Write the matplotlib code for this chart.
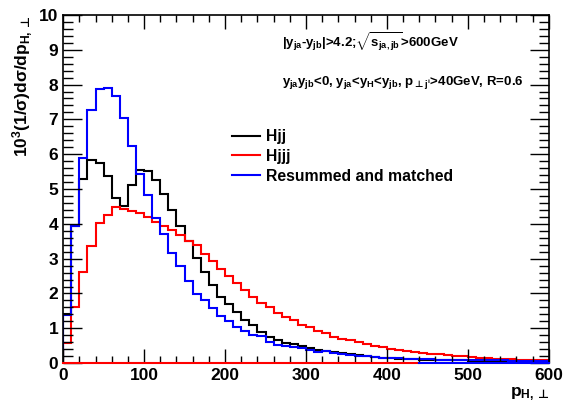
import numpy as np
import matplotlib.pyplot as plt
from matplotlib.ticker import MultipleLocator

plt.rcParams['font.family'] = ['Liberation Sans', 'DejaVu Sans']
plt.rcParams['font.weight'] = 'bold'
plt.rcParams['mathtext.fontset'] = 'custom'
plt.rcParams['mathtext.rm'] = 'Liberation Sans:bold'
plt.rcParams['mathtext.it'] = 'Liberation Sans:bold'
plt.rcParams['mathtext.bf'] = 'Liberation Sans:bold'
plt.rcParams['mathtext.sf'] = 'DejaVu Sans:bold'

# bin edges in GeV (10 GeV bins)
edges = np.arange(0, 610, 10)

hjj = [1.40, 3.95, 5.29, 5.83, 5.74, 5.37, 4.73, 4.51, 5.11, 5.56,
       5.53, 5.26, 4.87, 4.41, 3.95, 3.50, 3.01, 2.62, 2.24, 1.89,
       1.70, 1.46, 1.24, 1.08, 0.89, 0.74, 0.67, 0.58, 0.55, 0.49,
       0.43, 0.38, 0.34, 0.31, 0.29, 0.26, 0.23, 0.20, 0.18, 0.16,
       0.14, 0.13, 0.12, 0.11, 0.10, 0.10, 0.09, 0.09, 0.08, 0.08,
       0.07, 0.07, 0.07, 0.06, 0.06, 0.06, 0.05, 0.05, 0.05, 0.05]

hjjj = [0.57, 1.62, 2.62, 3.36, 4.03, 4.25, 4.49, 4.44, 4.38, 4.30,
        4.19, 4.06, 3.94, 3.82, 3.68, 3.50, 3.38, 3.12, 2.93, 2.71,
        2.49, 2.31, 2.10, 1.89, 1.72, 1.62, 1.45, 1.33, 1.24, 1.10,
        1.03, 0.93, 0.86, 0.76, 0.70, 0.65, 0.60, 0.55, 0.50, 0.46,
        0.41, 0.37, 0.34, 0.31, 0.29, 0.26, 0.25, 0.23, 0.21, 0.19,
        0.17, 0.16, 0.14, 0.13, 0.12, 0.11, 0.10, 0.09, 0.09, 0.08]

resummed = [1.38, 3.95, 5.88, 7.27, 7.86, 7.90, 7.67, 7.05, 6.24, 5.43,
            4.82, 4.17, 3.70, 3.17, 2.79, 2.36, 1.98, 1.82, 1.57, 1.36,
            1.22, 1.05, 0.91, 0.82, 0.77, 0.62, 0.53, 0.50, 0.46, 0.43,
            0.39, 0.31, 0.34, 0.29, 0.27, 0.24, 0.21, 0.19, 0.17, 0.16,
            0.15, 0.14, 0.13, 0.13, 0.11, 0.11, 0.10, 0.10, 0.10, 0.10,
            0.08, 0.08, 0.08, 0.08, 0.08, 0.07, 0.07, 0.07, 0.07, 0.07]

fig = plt.figure(figsize=(5.64, 4.03), dpi=100)
ax = fig.add_axes([0.112, 0.099, 0.861, 0.864])

ax.stairs(hjj, edges, color='black', lw=1.5, label='Hjj')
ax.stairs(hjjj, edges, color='red', lw=1.5, label='Hjjj')
ax.stairs(resummed, edges, color='blue', lw=1.5, label='Resummed and matched')

# zero lines along the bottom
ax.plot([0, 440], [0, 0], color='red', lw=1.5, clip_on=False, zorder=5)
ax.plot([440, 600], [0, 0], color='blue', lw=1.5, clip_on=False, zorder=5)

ax.set_xlim(0, 600)
ax.set_ylim(0, 10)
ax.xaxis.set_major_locator(MultipleLocator(100))
ax.xaxis.set_minor_locator(MultipleLocator(20))
ax.yaxis.set_major_locator(MultipleLocator(1))
ax.yaxis.set_minor_locator(MultipleLocator(0.2))
ax.tick_params(which='both', direction='in', top=True, right=True, labelsize=12.5, width=1)
ax.tick_params(axis='x', which='major', length=10)
ax.tick_params(axis='x', which='minor', length=5)
ax.tick_params(axis='y', which='major', length=14)
ax.tick_params(axis='y', which='minor', length=7)
for lab in ax.get_xticklabels() + ax.get_yticklabels():
    lab.set_fontweight('bold')
for s in ax.spines.values():
    s.set_linewidth(1.2)

ax.set_ylabel(r'$10^3(1/\sigma)d\sigma/dp_{H,\mathsf{\bot}}$', fontsize=12.5, loc='top', labelpad=3)
ax.set_xlabel(r'$p_{H,\mathsf{\bot}}$', fontsize=12.5, loc='right', labelpad=2)

ax.text(0.45, 0.905, r'$|y_{ja}$-$y_{jb}|$>4.2;$\sqrt{s_{ja,jb}}$>600GeV',
        transform=ax.transAxes, fontsize=9.5)
ax.text(0.45, 0.80, r'$y_{ja}y_{jb}$<0, $y_{ja}$<$y_H$<$y_{jb}$, $p_{\mathsf{\bot} j^i}$>40GeV, R=0.6',
        transform=ax.transAxes, fontsize=9.5)

leg = ax.legend(loc='upper left', bbox_to_anchor=(0.335, 0.69), frameon=False,
                fontsize=11.3, handlelength=1.75, handletextpad=0.4, labelspacing=0.3,
                borderaxespad=0)
for t in leg.get_texts():
    t.set_fontweight('bold')

fig.savefig('out.png', dpi=100)
